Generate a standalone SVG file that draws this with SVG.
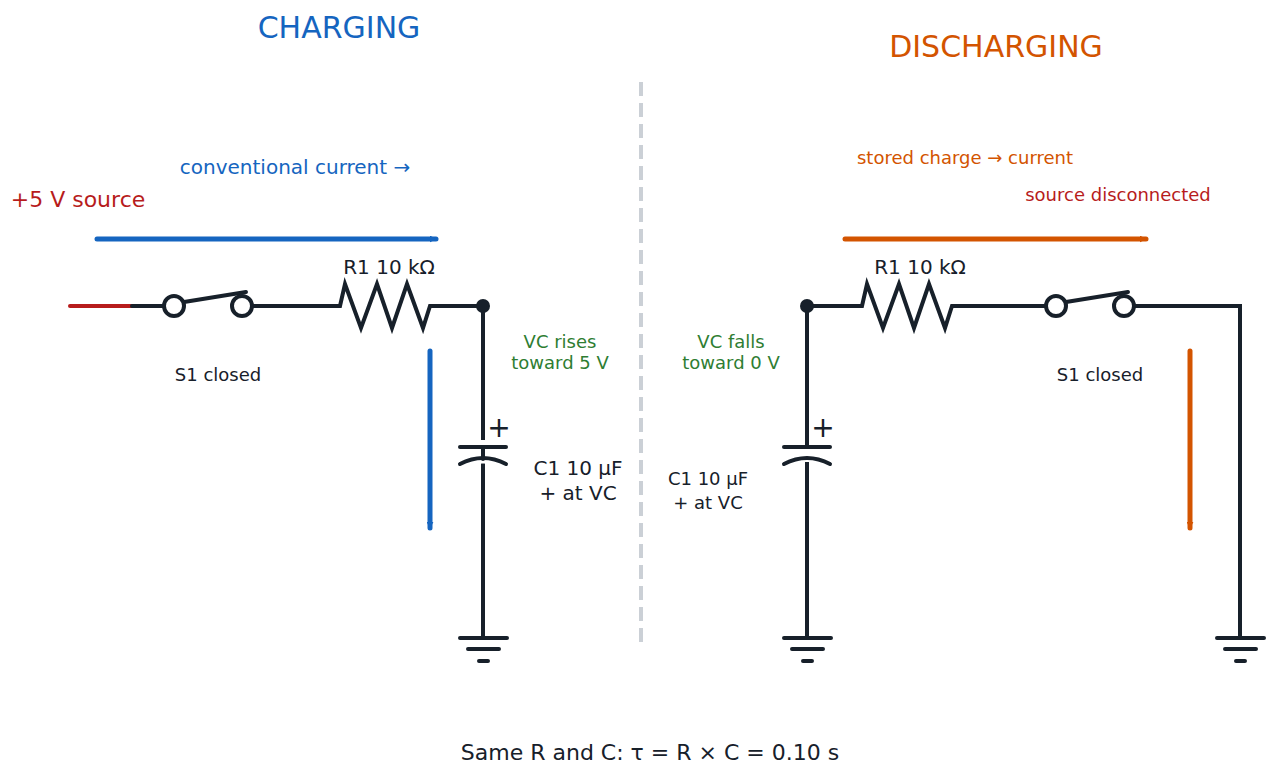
<svg xmlns="http://www.w3.org/2000/svg" width="1273" height="776" viewBox="0 0 1273 776">
<defs>
<marker id="ab" viewBox="0 0 10 10" refX="9" refY="5" markerWidth="7" markerHeight="7" markerUnits="userSpaceOnUse" orient="auto"><path d="M0,0 L10,5 L0,10 z" fill="#1565c0"/></marker>
<marker id="ao" viewBox="0 0 10 10" refX="9" refY="5" markerWidth="7" markerHeight="7" markerUnits="userSpaceOnUse" orient="auto"><path d="M0,0 L10,5 L0,10 z" fill="#d35400"/></marker>
</defs>
<style>
text{font-family:"DejaVu Sans",sans-serif;text-anchor:middle}
.w{fill:none;stroke:#17202a;stroke-width:4;stroke-linecap:round;stroke-linejoin:miter}
.c{fill:#fff;stroke:#17202a;stroke-width:4}
.k{fill:#17202a}
.g{fill:#2e7d32;font-size:18px}
</style>
<rect width="1273" height="776" fill="#fff"/>
<line x1="641" y1="82" x2="641" y2="645" stroke="#cbd0d6" stroke-width="4" stroke-dasharray="14,7"/>
<text x="339" y="38" font-size="30" fill="#1565c0">CHARGING</text>
<text x="996" y="57" font-size="30" fill="#d35400">DISCHARGING</text>
<g id="connectors">
<line x1="70" y1="306" x2="132" y2="306" stroke="#b71c1c" stroke-width="4" stroke-linecap="round"/>
<path class="w" d="M132,306 H164 M252,306 H340 L345,284 L361,328 L377,284 L392,328 L407,284 L423,328 L430,306 H483 V638"/>
<path class="w" d="M807,306 H862 L867,284 L883,328 L899,284 L914,328 L929,284 L945,328 L952,306 H1046 M1134,306 H1240 V638 M807,306 V638"/>
<line x1="97" y1="239" x2="436" y2="239" stroke="#1565c0" stroke-width="5" stroke-linecap="round" marker-end="url(#ab)"/>
<line x1="430" y1="351" x2="430" y2="528" stroke="#1565c0" stroke-width="5" stroke-linecap="round" marker-end="url(#ab)"/>
<line x1="845" y1="239" x2="1146" y2="239" stroke="#d35400" stroke-width="5" stroke-linecap="round" marker-end="url(#ao)"/>
<line x1="1190" y1="351" x2="1190" y2="528" stroke="#d35400" stroke-width="5" stroke-linecap="round" marker-end="url(#ao)"/>
</g>
<g id="S1L"><line class="w" x1="184" y1="302" x2="246" y2="292"/><circle class="c" cx="174" cy="306" r="10"/><circle class="c" cx="242" cy="306" r="10"/><text x="218" y="381" font-size="18" fill="#17202a">S1 closed</text></g>
<g id="R1L"><text x="389" y="274" font-size="20" fill="#17202a">R1  10 kΩ</text></g>
<g id="NL"><circle class="k" cx="483" cy="306" r="7"/></g>
<g id="C1L"><rect x="483" y="435" width="0" height="0"/><line x1="460" y1="447" x2="506" y2="447" stroke="#fff" stroke-width="14"/><line class="w" x1="460" y1="447" x2="506" y2="447"/><path d="M460,464 Q483,453 506,464" fill="none" stroke="#fff" stroke-width="10"/><path class="w" d="M460,464 Q483,452 506,464"/><line class="w" x1="483" y1="449" x2="483" y2="459" stroke="#fff"/><text x="499" y="437" font-size="28" fill="#17202a">+</text><text x="578" y="475" font-size="20" fill="#17202a">C1  10 µF</text><text x="578" y="500" font-size="20" fill="#17202a">+ at VC</text></g>
<g id="GL"><path class="w" d="M460,638 H507 M468,649 H499 M479,661 H488"/></g>
<g id="labelsL"><text x="78" y="207" font-size="22" fill="#b71c1c">+5 V source</text><text x="295" y="174" font-size="20" fill="#1565c0">conventional current →</text><text class="g" x="560" y="348">VC rises</text><text class="g" x="560" y="369">toward 5 V</text></g>
<g id="S1R"><line class="w" x1="1066" y1="302" x2="1128" y2="292"/><circle class="c" cx="1056" cy="306" r="10"/><circle class="c" cx="1124" cy="306" r="10"/><text x="1100" y="381" font-size="18" fill="#17202a">S1 closed</text></g>
<g id="R1R"><text x="920" y="274" font-size="20" fill="#17202a">R1  10 kΩ</text></g>
<g id="NR"><circle class="k" cx="807" cy="306" r="7"/></g>
<g id="C1R"><line x1="784" y1="455" x2="830" y2="455" stroke="#fff" stroke-width="14"/><line class="w" x1="784" y1="447" x2="830" y2="447"/><path class="w" d="M784,464 Q807,452 830,464"/><text x="823" y="437" font-size="28" fill="#17202a">+</text><text x="708" y="485" font-size="18" fill="#17202a">C1  10 µF</text><text x="708" y="509" font-size="18" fill="#17202a">+ at VC</text></g>
<g id="GR1"><path class="w" d="M784,638 H831 M792,649 H823 M803,661 H812"/></g>
<g id="GR2"><path class="w" d="M1217,638 H1264 M1225,649 H1256 M1236,661 H1245"/></g>
<g id="labelsR"><text x="965" y="164" font-size="18" fill="#d35400">stored charge → current</text><text x="1118" y="201" font-size="18" fill="#b71c1c">source disconnected</text><text class="g" x="731" y="348">VC falls</text><text class="g" x="731" y="369">toward 0 V</text></g>
<text x="650" y="760" font-size="22" fill="#17202a">Same R and C: τ = R × C = 0.10 s</text>
</svg>
